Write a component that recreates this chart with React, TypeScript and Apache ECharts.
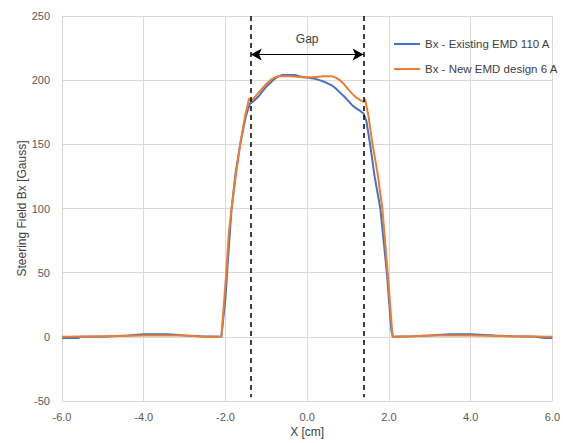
import React, { useEffect, useRef } from "react";
import * as echarts from "echarts";

const seriesNames = ["Bx - Existing EMD 110 A", "Bx - New EMD design 6 A"];

const existingX = [-6, -5.6, -5.55, -5, -4.4, -4, -3.4, -3, -2.6, -2.1, -2.0, -1.95, -1.85, -1.75, -1.64, -1.5, -1.4, -1.38, -1.3, -1.2, -1.1, -1.0, -0.9, -0.8, -0.7, -0.6, -0.5, -0.4, -0.3, -0.2, -0.1, 0, 0.1, 0.2, 0.3, 0.4, 0.5, 0.6, 0.7, 0.8, 0.9, 1.0, 1.1, 1.2, 1.3, 1.38, 1.45, 1.54, 1.65, 1.79, 1.95, 2.06, 2.1, 2.6, 3, 3.5, 4, 4.6, 5, 5.6, 5.8, 6];
const existingY = [-1, -1, 0, 0, 1, 2, 2, 1, 0.5, 0, 30, 55, 100, 128, 150, 172, 182, 182, 184, 187, 191, 195, 198, 201, 203, 204, 204, 204, 204, 203, 202.5, 202, 201.5, 201, 200, 199, 197.5, 196, 193.5, 190.5, 187.5, 184, 180.5, 178, 176, 174, 168, 150, 125, 100, 50, 5, 0, 0.5, 1, 2, 2, 1, 0.5, 0, -1, -1];

const newX = [-6, -5, -4, -3, -2.5, -2.1, -2.04, -1.98, -1.92, -1.85, -1.75, -1.64, -1.52, -1.42, -1.38, -1.3, -1.2, -1.1, -1.0, -0.9, -0.8, -0.7, -0.6, -0.4, -0.2, 0, 0.2, 0.4, 0.6, 0.7, 0.8, 0.9, 1.0, 1.1, 1.2, 1.3, 1.38, 1.42, 1.5, 1.6, 1.72, 1.84, 1.97, 2.09, 2.6, 3, 4, 5, 6];
const newY = [0, 0.5, 1, 1, 0, 0, 25, 50, 80, 100, 125, 150, 172, 186, 184, 186, 190, 193.5, 197, 200, 202, 203, 203, 203, 202.5, 202, 202.5, 203, 203, 202, 200, 197, 193, 189.5, 186.5, 184.5, 183, 185, 172, 150, 128, 100, 50, 0, 0.5, 1, 1, 0.5, 0];

const gapEdges = [-1.38, 1.38];
const gapArrowY = 220;
const gapLabel = "Gap";

function pairs(xs: number[], ys: number[]) {
  return xs.map((x, i) => [x, ys[i]]);
}

export default function App() {
  const ref = useRef<HTMLDivElement>(null);
  useEffect(() => {
    if (!ref.current) return;
    const chart = echarts.init(ref.current, null, { renderer: "svg" });
    const font = "'Liberation Sans', Arial, sans-serif";
    chart.setOption({
      animation: false,
      backgroundColor: "#ffffff",
      textStyle: { fontFamily: font },
      grid: { left: 62, right: 7, top: 16, bottom: 39 },
      legend: {
        orient: "vertical",
        left: 389,
        top: 33,
        itemWidth: 26,
        itemHeight: 2,
        itemGap: 13,
        icon: "rect",
        textStyle: { fontSize: 11.5, color: "#404040", fontFamily: font },
        data: seriesNames,
      },
      xAxis: {
        type: "value",
        min: -6,
        max: 6,
        interval: 2,
        name: "X [cm]",
        nameLocation: "middle",
        nameGap: 25,
        nameMoveOverlap: false,
        nameTextStyle: { fontSize: 12, color: "#404040" },
        axisLine: { show: false },
        axisTick: { show: false },
        axisLabel: { fontSize: 11, color: "#595959", margin: 10, formatter: (v: number) => v.toFixed(1) },
        splitLine: { show: true, lineStyle: { color: "#d9d9d9", width: 1 } },
      },
      yAxis: {
        type: "value",
        min: -50,
        max: 250,
        interval: 50,
        name: "Steering Field Bx [Gauss]",
        nameLocation: "middle",
        nameGap: 34,
        nameMoveOverlap: false,
        nameTextStyle: { fontSize: 12, color: "#404040" },
        axisLine: { show: false },
        axisTick: { show: false },
        axisLabel: { fontSize: 11, color: "#595959", margin: 12 },
        splitLine: { show: true, lineStyle: { color: "#d9d9d9", width: 1 } },
      },
      series: [
        {
          name: seriesNames[0],
          type: "line",
          data: pairs(existingX, existingY),
          showSymbol: false,
          lineStyle: { color: "#4472C4", width: 2 },
          itemStyle: { color: "#4472C4" },
          z: 2,
        },
        {
          name: seriesNames[1],
          type: "line",
          data: pairs(newX, newY),
          showSymbol: false,
          lineStyle: { color: "#ED7D31", width: 2 },
          itemStyle: { color: "#ED7D31" },
          z: 3,
        },
        {
          name: "annotations",
          type: "line",
          data: [],
          z: 4,
          markLine: {
            silent: true,
            animation: false,
            data: [
              [
                { coord: [gapEdges[0], 250], symbol: "none" },
                { coord: [gapEdges[0], -47], symbol: "none" },
              ],
              [
                { coord: [gapEdges[1], 250], symbol: "none" },
                { coord: [gapEdges[1], -47], symbol: "none" },
              ],
            ],
            lineStyle: { color: "#000000", type: [5, 4], width: 1.5 },
            label: { show: false },
          },
        },
        {
          name: "arrow",
          type: "line",
          data: [],
          z: 5,
          markLine: {
            silent: true,
            animation: false,
            symbol: ["arrow", "arrow"],
            symbolSize: [9, 11],
            data: [
              [
                { coord: [gapEdges[0], gapArrowY] },
                { coord: [gapEdges[1], gapArrowY] },
              ],
            ],
            lineStyle: { color: "#000000", type: "solid", width: 1 },
            label: {
              show: true,
              position: "insideMiddleTop",
              formatter: gapLabel,
              fontSize: 12,
              color: "#404040",
              distance: 10,
            },
          },
        },
      ],
    });
    return () => chart.dispose();
  }, []);
  return (
    <div
      ref={ref}
      style={{ position: "fixed", left: 0, top: 0, width: 563, height: 443 }}
    />
  );
}
